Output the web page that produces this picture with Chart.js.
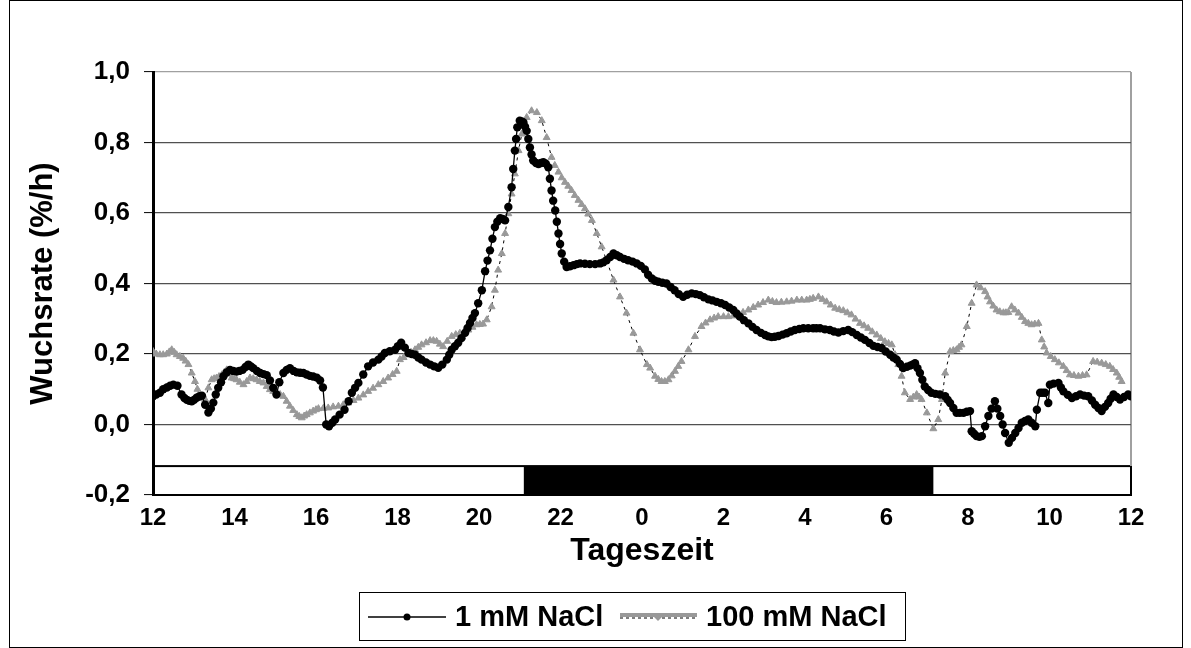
<!DOCTYPE html>
<html>
<head>
<meta charset="utf-8">
<script src="https://cdn.jsdelivr.net/npm/chart.js@4.4.1/dist/chart.umd.min.js"></script>
<style>
  html, body { margin: 0; padding: 0; background: #fff; }
  #wrap { width: 1191px; height: 648px; position: relative; }
</style>
</head>
<body>
<div id="wrap"><canvas id="chartWuchs"></canvas></div>
<script>
// Tageszeit in Stunden ab 12 Uhr (12 ... 36 = 12 Uhr am Folgetag)
const hours1mM = [
  12.0, 12.08, 12.17, 12.25, 12.34, 12.42, 12.5, 12.6, 12.7, 12.77,
  12.83, 12.89, 12.95, 13.01, 13.07, 13.14, 13.2, 13.28, 13.36, 13.42,
  13.48, 13.54, 13.6, 13.67, 13.73, 13.81, 13.89, 13.97, 14.05, 14.12,
  14.2, 14.27, 14.34, 14.4, 14.46, 14.55, 14.63, 14.71, 14.79, 14.87,
  14.95, 15.03, 15.1, 15.2, 15.28, 15.36, 15.45, 15.53, 15.61, 15.69,
  15.77, 15.85, 15.93, 16.02, 16.1, 16.17, 16.25, 16.32, 16.4, 16.47,
  16.58, 16.7, 16.8, 16.88, 16.96, 17.04, 17.16, 17.28, 17.4, 17.53,
  17.61, 17.69, 17.81, 17.94, 18.01, 18.09, 18.18, 18.27, 18.35, 18.43,
  18.51, 18.59, 18.7, 18.8, 18.9, 19.0, 19.1, 19.21, 19.27, 19.33,
  19.41, 19.49, 19.57, 19.66, 19.72, 19.78, 19.84, 19.9, 19.98, 20.07,
  20.15, 20.21, 20.27, 20.33, 20.39, 20.45, 20.52, 20.58, 20.64, 20.72,
  20.8, 20.84, 20.88, 20.91, 20.94, 21.0, 21.05, 21.09, 21.13, 21.17,
  21.21, 21.25, 21.29, 21.33, 21.4, 21.46, 21.52, 21.58, 21.64, 21.7,
  21.74, 21.78, 21.82, 21.87, 21.91, 21.95, 21.99, 22.03, 22.09, 22.15,
  22.23, 22.32, 22.4, 22.48, 22.6, 22.72, 22.85, 22.97, 23.05, 23.13,
  23.22, 23.3, 23.38, 23.46, 23.56, 23.66, 23.77, 23.87, 23.97, 24.07,
  24.15, 24.24, 24.32, 24.4, 24.5, 24.6, 24.7, 24.8, 24.9, 25.01,
  25.11, 25.22, 25.32, 25.42, 25.52, 25.63, 25.73, 25.83, 25.94, 26.04,
  26.14, 26.24, 26.32, 26.4, 26.5, 26.61, 26.71, 26.81, 26.92, 27.02,
  27.1, 27.18, 27.26, 27.35, 27.45, 27.55, 27.65, 27.75, 27.86, 27.96,
  28.08, 28.2, 28.28, 28.37, 28.49, 28.61, 28.71, 28.82, 28.94, 29.06,
  29.16, 29.27, 29.37, 29.47, 29.58, 29.68, 29.78, 29.88, 29.98, 30.09,
  30.17, 30.25, 30.33, 30.41, 30.5, 30.58, 30.64, 30.7, 30.76, 30.82,
  30.88, 30.94, 31.02, 31.1, 31.2, 31.31, 31.44, 31.5, 31.56, 31.64,
  31.72, 31.8, 31.89, 31.97, 32.05, 32.09, 32.15, 32.21, 32.28, 32.34,
  32.42, 32.5, 32.58, 32.66, 32.72, 32.79, 32.85, 32.91, 33.0, 33.08,
  33.16, 33.24, 33.32, 33.4, 33.48, 33.56, 33.65, 33.69, 33.77, 33.83,
  33.89, 33.97, 34.01, 34.1, 34.22, 34.28, 34.34, 34.45, 34.55, 34.65,
  34.75, 34.85, 34.95, 35.04, 35.12, 35.2, 35.28, 35.36, 35.44, 35.5,
  35.57, 35.65, 35.73, 35.83, 35.93, 36.0
];
const rate1mM = [
  0.08, 0.085, 0.09, 0.1, 0.105, 0.11, 0.113, 0.11, 0.085, 0.075,
  0.07, 0.067, 0.066, 0.07, 0.076, 0.08, 0.082, 0.056, 0.034, 0.045,
  0.062, 0.085, 0.104, 0.12, 0.137, 0.148, 0.155, 0.152, 0.15, 0.152,
  0.155, 0.163, 0.17, 0.165, 0.16, 0.152, 0.146, 0.143, 0.14, 0.125,
  0.104, 0.085, 0.12, 0.146, 0.155, 0.16, 0.152, 0.148, 0.147, 0.146,
  0.142, 0.138, 0.136, 0.133, 0.125, 0.105, 0.0, -0.005, 0.005, 0.014,
  0.028, 0.042, 0.066, 0.09, 0.104, 0.118, 0.142, 0.165, 0.176, 0.184,
  0.193, 0.203, 0.208, 0.212, 0.222, 0.232, 0.218, 0.203, 0.2, 0.198,
  0.19, 0.184, 0.176, 0.17, 0.165, 0.161, 0.17, 0.184, 0.198, 0.212,
  0.222, 0.232, 0.245, 0.26, 0.274, 0.288, 0.302, 0.316, 0.344, 0.381,
  0.435, 0.465, 0.494, 0.527, 0.56, 0.575, 0.585, 0.583, 0.579, 0.617,
  0.673, 0.725, 0.777, 0.81, 0.843, 0.862, 0.86, 0.857, 0.845, 0.833,
  0.81, 0.786, 0.766, 0.749, 0.742, 0.739, 0.742, 0.744, 0.74, 0.73,
  0.697, 0.664, 0.635, 0.607, 0.575, 0.542, 0.512, 0.485, 0.462, 0.447,
  0.449, 0.452, 0.455, 0.457, 0.456, 0.455, 0.455, 0.457, 0.46, 0.466,
  0.475, 0.485, 0.48, 0.475, 0.47, 0.466, 0.462, 0.457, 0.45, 0.44,
  0.425, 0.414, 0.408, 0.405, 0.402, 0.4, 0.39, 0.381, 0.37, 0.362,
  0.368, 0.372, 0.37, 0.367, 0.361, 0.355, 0.352, 0.348, 0.344, 0.339,
  0.332, 0.325, 0.315, 0.306, 0.296, 0.287, 0.277, 0.268, 0.26, 0.254,
  0.25, 0.248, 0.249, 0.251, 0.255, 0.259, 0.264, 0.268, 0.271, 0.273,
  0.273, 0.273, 0.273, 0.273, 0.27, 0.268, 0.264, 0.261, 0.265, 0.268,
  0.262, 0.254, 0.247, 0.24, 0.231, 0.223, 0.22, 0.217, 0.207, 0.198,
  0.19, 0.184, 0.172, 0.16, 0.164, 0.167, 0.17, 0.174, 0.16, 0.146,
  0.127, 0.108, 0.098, 0.09, 0.087, 0.085, 0.08, 0.07, 0.061, 0.047,
  0.033, 0.033, 0.033, 0.036, 0.038, -0.019, -0.026, -0.033, -0.035, -0.033,
  -0.005, 0.024, 0.045, 0.066, 0.045, 0.024, 0.0, -0.024, -0.052, -0.038,
  -0.024, -0.01, 0.005, 0.01, 0.014, 0.005, -0.005, 0.042, 0.09, 0.09,
  0.09, 0.061, 0.113, 0.116, 0.118, 0.105, 0.094, 0.084, 0.075, 0.08,
  0.085, 0.082, 0.08, 0.068, 0.056, 0.047, 0.038, 0.05, 0.061, 0.073,
  0.085, 0.078, 0.071, 0.078, 0.085, 0.08
];
const hours100mM = [
  12.0, 12.08, 12.17, 12.25, 12.34, 12.4, 12.46, 12.52, 12.58, 12.66,
  12.74, 12.8, 12.87, 12.95, 13.03, 13.09, 13.15, 13.22, 13.28, 13.36,
  13.44, 13.5, 13.56, 13.62, 13.69, 13.75, 13.81, 13.87, 13.93, 13.99,
  14.05, 14.13, 14.22, 14.3, 14.38, 14.46, 14.54, 14.62, 14.71, 14.79,
  14.87, 14.95, 15.04, 15.12, 15.2, 15.28, 15.36, 15.44, 15.53, 15.59,
  15.65, 15.71, 15.77, 15.85, 15.93, 16.0, 16.06, 16.18, 16.3, 16.42,
  16.55, 16.67, 16.79, 16.92, 17.04, 17.16, 17.28, 17.4, 17.53, 17.65,
  17.77, 17.88, 17.98, 18.06, 18.15, 18.23, 18.33, 18.43, 18.51, 18.59,
  18.7, 18.8, 18.88, 18.96, 19.04, 19.12, 19.22, 19.33, 19.43, 19.53,
  19.63, 19.74, 19.84, 19.94, 20.02, 20.1, 20.19, 20.31, 20.39, 20.47,
  20.56, 20.64, 20.72, 20.8, 20.88, 20.97, 21.05, 21.17, 21.29, 21.42,
  21.54, 21.66, 21.78, 21.86, 21.95, 22.03, 22.11, 22.19, 22.27, 22.35,
  22.44, 22.52, 22.6, 22.68, 22.77, 22.89, 23.01, 23.13, 23.3, 23.46,
  23.62, 23.79, 23.95, 24.12, 24.2, 24.32, 24.4, 24.48, 24.56, 24.65,
  24.73, 24.81, 24.89, 24.97, 25.14, 25.3, 25.46, 25.56, 25.67, 25.77,
  25.87, 26.0, 26.12, 26.24, 26.36, 26.48, 26.61, 26.73, 26.85, 26.97,
  27.1, 27.2, 27.3, 27.42, 27.55, 27.67, 27.8, 27.92, 28.04, 28.12,
  28.2, 28.33, 28.43, 28.53, 28.63, 28.74, 28.84, 28.94, 29.04, 29.14,
  29.24, 29.35, 29.45, 29.55, 29.65, 29.76, 29.86, 29.96, 30.05, 30.13,
  30.21, 30.29, 30.37, 30.45, 30.58, 30.66, 30.74, 30.8, 30.86, 30.99,
  31.15, 31.27, 31.36, 31.44, 31.56, 31.64, 31.72, 31.78, 31.84, 31.97,
  32.09, 32.21, 32.31, 32.42, 32.48, 32.54, 32.62, 32.7, 32.78, 32.87,
  32.93, 32.99, 33.07, 33.15, 33.24, 33.32, 33.4, 33.48, 33.56, 33.64,
  33.73, 33.81, 33.87, 33.93, 34.03, 34.13, 34.23, 34.34, 34.42, 34.5,
  34.6, 34.71, 34.81, 34.91, 35.07, 35.17, 35.28, 35.38, 35.48, 35.56,
  35.65, 35.71, 35.77
];
const rate100mM = [
  0.207, 0.2, 0.198, 0.198, 0.2, 0.206, 0.212, 0.205, 0.198, 0.193,
  0.188, 0.18, 0.17, 0.146, 0.122, 0.1, 0.08, 0.074, 0.071, 0.104,
  0.127, 0.13, 0.132, 0.136, 0.141, 0.148, 0.155, 0.143, 0.132, 0.13,
  0.127, 0.12, 0.113, 0.122, 0.132, 0.13, 0.127, 0.122, 0.118, 0.108,
  0.099, 0.094, 0.09, 0.085, 0.08, 0.066, 0.052, 0.04, 0.028, 0.023,
  0.019, 0.024, 0.028, 0.033, 0.038, 0.042, 0.045, 0.046, 0.047, 0.05,
  0.052, 0.056, 0.061, 0.068, 0.075, 0.084, 0.094, 0.103, 0.113, 0.122,
  0.132, 0.142, 0.151, 0.184, 0.19, 0.198, 0.205, 0.212, 0.219, 0.226,
  0.232, 0.238, 0.238, 0.236, 0.228, 0.221, 0.236, 0.25, 0.255, 0.259,
  0.263, 0.268, 0.276, 0.283, 0.284, 0.285, 0.297, 0.334, 0.381, 0.438,
  0.485, 0.542, 0.598, 0.654, 0.711, 0.777, 0.824, 0.871, 0.89, 0.885,
  0.862, 0.814, 0.758, 0.735, 0.716, 0.7, 0.687, 0.676, 0.664, 0.65,
  0.636, 0.624, 0.612, 0.597, 0.579, 0.542, 0.504, 0.466, 0.41, 0.362,
  0.316, 0.259, 0.212, 0.17, 0.16, 0.137, 0.128, 0.122, 0.122, 0.127,
  0.138, 0.151, 0.165, 0.179, 0.212, 0.25, 0.278, 0.288, 0.297, 0.302,
  0.306, 0.306, 0.306, 0.308, 0.311, 0.318, 0.325, 0.332, 0.339, 0.346,
  0.353, 0.349, 0.346, 0.347, 0.348, 0.35, 0.353, 0.353, 0.353, 0.355,
  0.358, 0.362, 0.355, 0.348, 0.339, 0.33, 0.326, 0.323, 0.317, 0.311,
  0.299, 0.287, 0.28, 0.273, 0.263, 0.254, 0.244, 0.235, 0.23, 0.226,
  0.198, 0.17, 0.137, 0.09, 0.071, 0.078, 0.085, 0.078, 0.071, 0.033,
  -0.012, 0.014, 0.071, 0.146, 0.207, 0.21, 0.212, 0.219, 0.226, 0.278,
  0.344, 0.396, 0.388, 0.377, 0.362, 0.348, 0.336, 0.325, 0.32, 0.317,
  0.317, 0.318, 0.334, 0.325, 0.316, 0.304, 0.292, 0.287, 0.283, 0.285,
  0.287, 0.24, 0.22, 0.203, 0.193, 0.184, 0.175, 0.165, 0.153, 0.141,
  0.139, 0.137, 0.139, 0.141, 0.179, 0.177, 0.174, 0.17, 0.165, 0.156,
  0.146, 0.134, 0.122
];
const seriesNames = ['1 mM NaCl', '100 mM NaCl'];
// Dunkelphase (Stunden) und Lage des Hell/Dunkel-Balkens auf der y-Achse
const nightPeriod = [21.1, 31.15];
const lightBarRange = [-0.2, -0.118];

const FONT = "'Liberation Sans', Arial, Helvetica, sans-serif";
const toPoints = (hs, vs) => hs.map((h, i) => ({ x: h, y: vs[i] }));

// Hell/Dunkel-Balken unter den Kurven
const dayNightBar = {
  id: 'dayNightBar',
  beforeDraw(chart) {
    const { ctx, scales: { x, y } } = chart;
    const top = y.getPixelForValue(lightBarRange[1]);
    const bottom = y.getPixelForValue(lightBarRange[0]);
    const left = x.getPixelForValue(x.min);
    const right = x.getPixelForValue(x.max);
    const n0 = x.getPixelForValue(nightPeriod[0]);
    const n1 = x.getPixelForValue(nightPeriod[1]);
    ctx.save();
    ctx.fillStyle = '#000';
    ctx.fillRect(n0, top, n1 - n0, bottom - top);
    ctx.strokeStyle = '#000';
    ctx.lineWidth = 2;
    ctx.strokeRect(left, top, right - left, bottom - top);
    // rechter Rand der Zeichenfläche
    ctx.strokeStyle = '#a0a0a0';
    ctx.lineWidth = 2;
    ctx.beginPath();
    ctx.moveTo(right, chart.chartArea.top);
    ctx.lineTo(right, top);
    ctx.stroke();
    ctx.restore();
  }
};

// Legende unten + Rahmen
const legendBox = {
  id: 'legendBox',
  afterDraw(chart) {
    const { ctx } = chart;
    ctx.save();
    ctx.strokeStyle = '#000';
    ctx.lineWidth = 1;
    ctx.strokeRect(359.5, 592.5, 546, 48);

    const ly = 617;
    // 1 mM
    ctx.strokeStyle = '#000';
    ctx.lineWidth = 1.5;
    ctx.beginPath();
    ctx.moveTo(368, ly);
    ctx.lineTo(446, ly);
    ctx.stroke();
    ctx.fillStyle = '#000';
    ctx.beginPath();
    ctx.arc(407, ly, 3.5, 0, Math.PI * 2);
    ctx.fill();
    // 100 mM
    ctx.strokeStyle = '#999';
    ctx.lineWidth = 4;
    ctx.beginPath();
    ctx.moveTo(620, ly - 2);
    ctx.lineTo(697, ly - 2);
    ctx.stroke();
    ctx.strokeStyle = '#000';
    ctx.lineWidth = 1;
    ctx.setLineDash([3, 3]);
    ctx.beginPath();
    ctx.moveTo(620, ly + 1);
    ctx.lineTo(697, ly + 1);
    ctx.stroke();
    ctx.setLineDash([]);
    ctx.fillStyle = '#999';
    ctx.beginPath();
    ctx.moveTo(654, ly);
    ctx.lineTo(662, ly);
    ctx.lineTo(658, ly + 4);
    ctx.closePath();
    ctx.fill();

    ctx.fillStyle = '#000';
    ctx.font = 'bold 29px ' + FONT;
    ctx.textBaseline = 'middle';
    ctx.fillText(seriesNames[0], 455, ly + 1);
    ctx.fillText(seriesNames[1], 706, ly + 1);

    // äußerer Rahmen
    ctx.lineWidth = 1;
    ctx.strokeRect(9.5, 0.5, 1173, 647);
    ctx.restore();
  }
};

new Chart(document.getElementById('chartWuchs'), {
  type: 'line',
  data: {
    datasets: [
      {
        label: seriesNames[0],
        data: toPoints(hours1mM, rate1mM),
        borderColor: '#000',
        borderWidth: 1.3,
        pointStyle: 'circle',
        pointRadius: 4.2,
        pointBackgroundColor: '#000',
        pointBorderWidth: 0,
        tension: 0
      },
      {
        label: seriesNames[1],
        data: toPoints(hours100mM, rate100mM),
        borderColor: '#000',
        borderWidth: 1,
        borderDash: [3, 4],
        pointStyle: 'triangle',
        pointRadius: 4,
        pointBackgroundColor: '#999',
        pointBorderColor: '#999',
        pointBorderWidth: 1,
        tension: 0
      }
    ]
  },
  options: {
    responsive: true,
    maintainAspectRatio: false,
    animation: false,
    layout: { padding: { top: 72, right: 60, left: 20, bottom: 78 } },
    plugins: {
      legend: { display: false },
      tooltip: { enabled: false }
    },
    scales: {
      x: {
        type: 'linear',
        min: 12,
        max: 36,
        ticks: {
          stepSize: 2,
          autoSkip: false,
          maxRotation: 0,
          color: '#000',
          padding: 9,
          font: { family: FONT, size: 24, weight: 'bold' },
          callback: v => String(v % 24)
        },
        grid: { display: false, drawTicks: false },
        border: { display: false },
        title: {
          display: true,
          text: 'Tageszeit',
          color: '#000',
          font: { family: FONT, size: 32, weight: 'bold' },
          padding: { top: 0, bottom: 0 }
        },
        afterFit: s => { s.height = 75; }
      },
      y: {
        min: -0.2,
        max: 1.0,
        ticks: {
          stepSize: 0.2,
          color: '#000',
          padding: 14,
          font: { family: FONT, size: 26, weight: 'bold' },
          callback: v => (Math.abs(v) < 1e-9 ? 0 : v).toFixed(1).replace('.', ',')
        },
        grid: {
          color: c => {
            const v = c.tick ? c.tick.value : 0;
            if (Math.abs(v - 1) < 1e-6) return '#a0a0a0';
            if (Math.abs(v + 0.2) < 1e-6) return 'rgba(0,0,0,0)';
            return '#505050';
          },
          lineWidth: 1.2,
          tickLength: 9,
          tickColor: '#000',
          tickWidth: 1
        },
        border: { display: true, color: '#000', width: 3 },
        title: {
          display: true,
          text: 'Wuchsrate (%/h)',
          color: '#000',
          font: { family: FONT, size: 31, weight: 'bold' },
          padding: { top: 5, bottom: 0 }
        },
        afterFit: s => { s.width = 133; }
      }
    }
  },
  plugins: [dayNightBar, legendBox]
});
</script>
</body>
</html>
